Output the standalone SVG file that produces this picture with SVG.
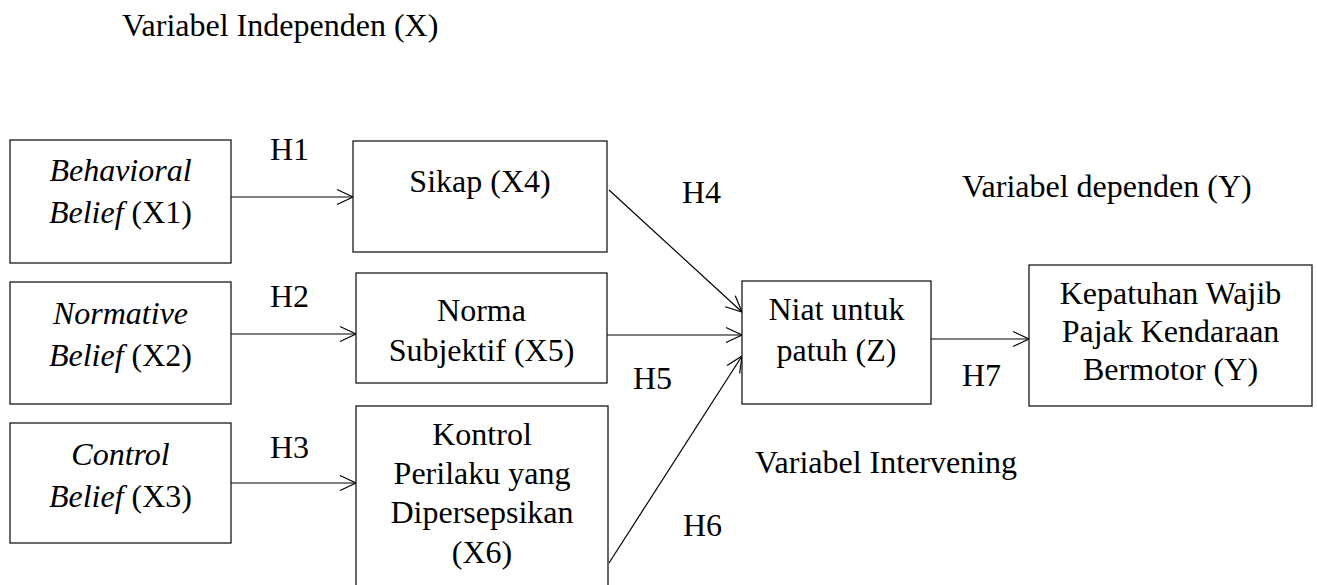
<svg xmlns="http://www.w3.org/2000/svg" width="1317" height="585" viewBox="0 0 1317 585">
<style>
text{font-family:"Liberation Serif","Times New Roman",serif;font-size:32px;fill:#000}
.c{text-anchor:middle}
.i{font-style:italic}
.box{fill:#fff;stroke:#1a1a1a;stroke-width:1.3}
.ln{stroke:#000;stroke-width:1.2;fill:none;marker-end:url(#ah)}
</style>
<defs>
<marker id="ah" markerUnits="userSpaceOnUse" markerWidth="20" markerHeight="20" refX="17" refY="8" orient="auto" overflow="visible">
<path d="M1,0.5 L17,8 L1,15.5" fill="none" stroke="#000" stroke-width="1.2"/>
</marker>
</defs>
<rect width="1317" height="585" fill="#fff"/>
<g id="labels">
<text x="122" y="36">Variabel Independen (X)</text>
<text x="962" y="197">Variabel dependen (Y)</text>
<text x="755" y="473">Variabel Intervening</text>
</g>
<g id="connectors">
<line class="ln" x1="231" y1="197" x2="353" y2="197"/>
<line class="ln" x1="231" y1="334" x2="356" y2="334"/>
<line class="ln" x1="231" y1="483" x2="356" y2="483"/>
<line class="ln" x1="609" y1="190" x2="742" y2="312"/>
<line class="ln" x1="607" y1="335" x2="742" y2="335"/>
<line class="ln" x1="609" y1="563" x2="742" y2="356"/>
<line class="ln" x1="931" y1="339" x2="1029" y2="339"/>
<text x="270" y="160">H1</text>
<text x="270" y="307">H2</text>
<text x="270" y="458">H3</text>
<text x="682" y="203">H4</text>
<text x="633" y="389">H5</text>
<text x="683" y="536">H6</text>
<text x="962" y="386">H7</text>
</g>
<g id="x1">
<rect class="box" x="10" y="140" width="221" height="123"/>
<text class="c i" x="120.5" y="181">Behavioral</text>
<text class="c" x="120.5" y="223"><tspan class="i">Belief</tspan> (X1)</text>
</g>
<g id="x2">
<rect class="box" x="10" y="282" width="221" height="122"/>
<text class="c i" x="120.5" y="324">Normative</text>
<text class="c" x="120.5" y="366"><tspan class="i">Belief</tspan> (X2)</text>
</g>
<g id="x3">
<rect class="box" x="10" y="423" width="221" height="120"/>
<text class="c i" x="120.5" y="465">Control</text>
<text class="c" x="120.5" y="507"><tspan class="i">Belief</tspan> (X3)</text>
</g>
<g id="x4">
<rect class="box" x="353" y="141" width="254" height="111"/>
<text class="c" x="480" y="192">Sikap (X4)</text>
</g>
<g id="x5">
<rect class="box" x="356" y="273" width="251" height="110"/>
<text class="c" x="481.5" y="321">Norma</text>
<text class="c" x="481.5" y="361">Subjektif (X5)</text>
</g>
<g id="x6">
<rect class="box" x="356" y="406" width="252" height="190"/>
<text class="c" x="482" y="445">Kontrol</text>
<text class="c" x="482" y="484">Perilaku yang</text>
<text class="c" x="482" y="523">Dipersepsikan</text>
<text class="c" x="482" y="563">(X6)</text>
</g>
<g id="z">
<rect class="box" x="742" y="281" width="189" height="123"/>
<text class="c" x="836.5" y="320">Niat untuk</text>
<text class="c" x="836.5" y="361">patuh (Z)</text>
</g>
<g id="y">
<rect class="box" x="1029" y="265" width="283" height="141"/>
<text class="c" x="1170.5" y="304">Kepatuhan Wajib</text>
<text class="c" x="1170.5" y="342">Pajak Kendaraan</text>
<text class="c" x="1170.5" y="380">Bermotor (Y)</text>
</g>
</svg>
